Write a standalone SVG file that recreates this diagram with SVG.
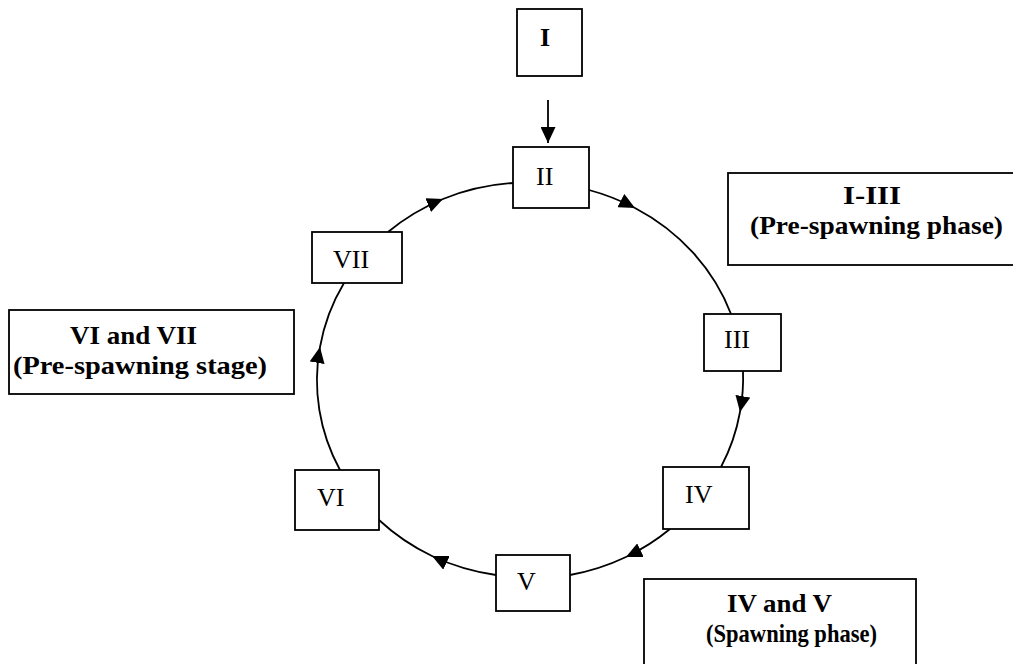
<svg xmlns="http://www.w3.org/2000/svg" width="1013" height="664" viewBox="0 0 1013 664">
<style>
.box{fill:#fff;stroke:#000;stroke-width:1.8}
.lbl{font-family:"Liberation Serif","Times New Roman",serif;font-size:26px;fill:#000}
.blbl{font-family:"Liberation Serif","Times New Roman",serif;font-size:25px;font-weight:bold;fill:#000}
.con{fill:none;stroke:#000;stroke-width:1.8}
</style>
<defs>
<marker id="ah" markerUnits="userSpaceOnUse" markerWidth="17" markerHeight="15" viewBox="0 0 17 15" refX="16" refY="7.5" orient="auto">
<path d="M0,0 L16,7.5 L0,15 z" fill="#000"/>
</marker>
</defs>
<rect width="1013" height="664" fill="#fff"/>
<g id="connectors">
<path class="con" d="M548,100 L548,143" marker-end="url(#ah)"/>
<path class="con" d="M589,190 A213 198 0 0 1 635,208 A213 198 0 0 1 731,314" marker-mid="url(#ah)"/>
<path class="con" d="M743,371 A213 198 0 0 1 740,412 A213 198 0 0 1 721,467" marker-mid="url(#ah)"/>
<path class="con" d="M670,529 A213 198 0 0 1 626,557 A213 198 0 0 1 570,575" marker-mid="url(#ah)"/>
<path class="con" d="M496,575 A213 198 0 0 1 432,556 A213 198 0 0 1 379,520" marker-mid="url(#ah)"/>
<path class="con" d="M340,470 A213 198 0 0 1 320,347 A213 198 0 0 1 344,283" marker-mid="url(#ah)"/>
<path class="con" d="M388,232 A213 198 0 0 1 443,199 A213 198 0 0 1 513,183" marker-mid="url(#ah)"/>
</g>
<g id="node-I"><rect class="box" x="517" y="9" width="65" height="67"/><text class="blbl" x="540" y="46" style="font-size:26px">I</text></g>
<g id="node-II"><rect class="box" x="513" y="147" width="76" height="61"/><text class="lbl" x="536" y="185">II</text></g>
<g id="node-III"><rect class="box" x="704" y="314" width="77" height="57"/><text class="lbl" x="724" y="348">III</text></g>
<g id="node-IV"><rect class="box" x="663" y="467" width="86" height="62"/><text class="lbl" x="685" y="503">IV</text></g>
<g id="node-V"><rect class="box" x="496" y="555" width="74" height="56"/><text class="lbl" x="517" y="590">V</text></g>
<g id="node-VI"><rect class="box" x="295" y="470" width="84" height="60"/><text class="lbl" x="317" y="506">VI</text></g>
<g id="node-VII"><rect class="box" x="312" y="232" width="90" height="51"/><text class="lbl" x="333" y="268">VII</text></g>
<g id="label-I-III"><rect class="box" x="728" y="173" width="300" height="92"/><text class="blbl" x="843" y="204" textLength="58" lengthAdjust="spacingAndGlyphs">I-III</text><text class="blbl" x="750" y="234" textLength="253" lengthAdjust="spacingAndGlyphs">(Pre-spawning phase)</text></g>
<g id="label-VI-VII"><rect class="box" x="9" y="310" width="285" height="84"/><text class="blbl" x="70" y="344" textLength="127" lengthAdjust="spacingAndGlyphs">VI and VII</text><text class="blbl" x="13" y="374" textLength="254" lengthAdjust="spacingAndGlyphs">(Pre-spawning stage)</text></g>
<g id="label-IV-V"><rect class="box" x="644" y="579" width="272" height="100"/><text class="blbl" x="727" y="612" textLength="105" lengthAdjust="spacingAndGlyphs">IV and V</text><text class="blbl" x="706" y="642" textLength="171" lengthAdjust="spacingAndGlyphs">(Spawning phase)</text></g>
</svg>
